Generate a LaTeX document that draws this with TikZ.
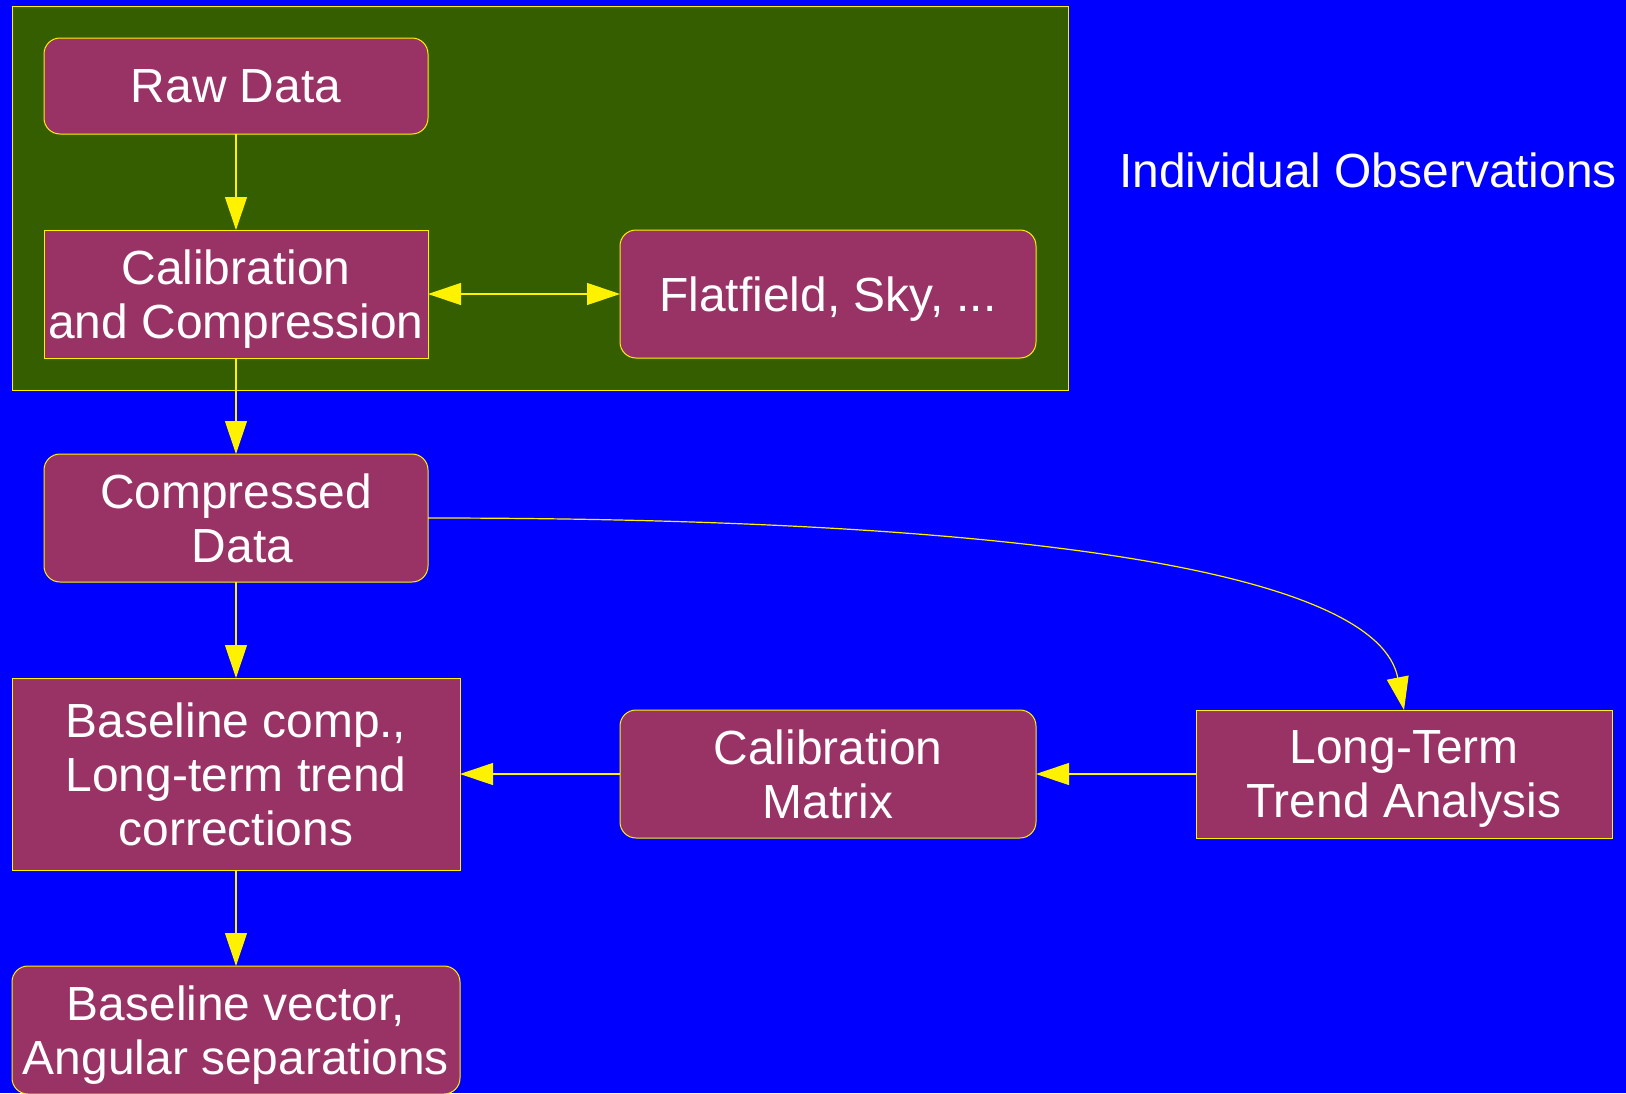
\documentclass[tikz,border=0pt]{standalone}
\usepackage{fontspec}
\setmainfont{Liberation Sans}
\usetikzlibrary{arrows.meta}
\definecolor{bgblue}{HTML}{0000FF}
\definecolor{grpgreen}{HTML}{345E00}
\definecolor{boxfill}{HTML}{993366}
\newcommand\zdp[1]{\raisebox{0pt}[\height][0pt]{#1}}
\begin{document}
\begin{tikzpicture}[x=1pt,y=-1pt,
  every node/.style={inner sep=0pt, outer sep=0pt},
  box/.style={draw=yellow, line width=1pt, fill=boxfill, text=white, align=center,
    font=\fontsize{47.9}{54}\selectfont},
  rbox/.style={box, rounded corners=16pt},
  conn/.style={draw=yellow, line width=1.2pt, -{Triangle[length=33pt,width=22pt]}},
  dconn/.style={draw=yellow, line width=1.2pt, {Triangle[length=33pt,width=22pt]}-{Triangle[length=33pt,width=22pt]}}
]
\useasboundingbox (0,0) rectangle (1626,1093);
\fill[bgblue] (0,0) rectangle (1626,1093);

\node[draw=yellow, line width=1pt, fill=grpgreen, minimum width=1056pt, minimum height=384pt] (grp) at (540,198) {};

\node[rbox, minimum width=384pt, minimum height=96pt] (raw) at (236,86) {\zdp{Raw Data}};
\node[box, minimum width=384pt, minimum height=128pt] (calib) at (236,294) {Calibration\\\zdp{and Compression}};
\node[rbox, minimum width=416pt, minimum height=128pt] (flat) at (828,294) {\zdp{Flatfield, Sky, ...}};
\node[text=white, font=\fontsize{47.9}{54}\selectfont, anchor=base] (obs) at (1368,187) {Individual Observations};

\node[rbox, minimum width=384pt, minimum height=128pt] (comp) at (236,518) {Compressed\\\zdp{\hspace*{13pt}Data}};
\node[box, minimum width=448pt, minimum height=192pt] (base) at (236,774) {Baseline comp.,\\Long-term trend\\\zdp{corrections}};
\node[rbox, minimum width=416pt, minimum height=128pt] (cmat) at (828,774) {Calibration\\\zdp{Matrix}};
\node[box, minimum width=416pt, minimum height=128pt] (ltta) at (1404,774) {Long-Term\\\zdp{Trend Analysis}};
\node[rbox, minimum width=448pt, minimum height=128pt] (bvec) at (236,1030) {Baseline vector,\\\zdp{Angular separations}};

\draw[conn] (raw.south) -- (calib.north);
\draw[dconn] (calib.east) -- (flat.west);
\draw[conn] (calib.south) -- (comp.north);
\draw[conn] (comp.south) -- (base.north);
\draw[conn] (base.south) -- (bvec.north);
\draw[conn] (cmat.west) -- (base.east);
\draw[conn] (ltta.west) -- (cmat.east);
\draw[conn] (comp.east) .. controls (1050,518) and (1378,576) .. (ltta.north);
\end{tikzpicture}
\end{document}
